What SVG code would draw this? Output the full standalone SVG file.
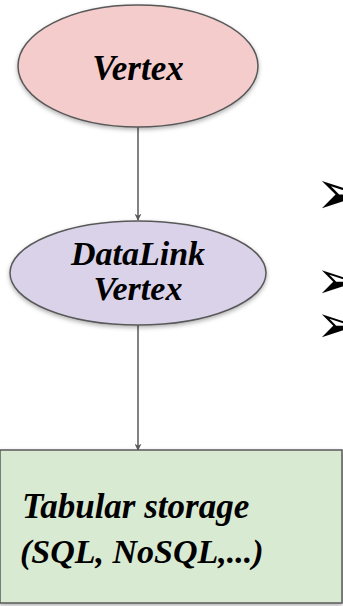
<svg xmlns="http://www.w3.org/2000/svg" width="343" height="606" viewBox="0 0 343 606">
<defs>
<filter id="sh" x="-10%" y="-10%" width="120%" height="130%">
<feDropShadow dx="0" dy="2" stdDeviation="2" flood-color="#000" flood-opacity="0.3"/>
</filter>
<marker id="ah" viewBox="0 0 10 10" refX="9" refY="5" markerWidth="7" markerHeight="7" orient="auto" markerUnits="userSpaceOnUse">
<path d="M0,0 L10,5 L0,10 L3,5 z" fill="#595959"/>
</marker>
<style>
.node{stroke:#595959;stroke-width:1.5;filter:url(#sh)}
.lbl{font-family:"Liberation Serif",serif;font-weight:bold;font-style:italic;fill:#000}
.conn{stroke:#595959;stroke-width:1.5;fill:none;marker-end:url(#ah)}
.bul{font-family:"DejaVu Sans",sans-serif;fill:#000}
</style>
</defs>
<rect width="343" height="606" fill="#fff"/>
<g id="connectors">
<path class="conn" d="M138,127 L138,220"/>
<path class="conn" d="M138,325 L138,450"/>
</g>
<g id="vertex">
<ellipse class="node" cx="138" cy="66" rx="120" ry="61" fill="#f4cccc"/>
<text class="lbl" x="138" y="80" font-size="35" text-anchor="middle">Vertex</text>
</g>
<g id="datalink">
<ellipse class="node" cx="138" cy="273" rx="128" ry="52" fill="#d9d2e9"/>
<text class="lbl" x="138" y="265" font-size="34" text-anchor="middle">DataLink</text>
<text class="lbl" x="138" y="300" font-size="34" text-anchor="middle">Vertex</text>
</g>
<g id="storage">
<rect class="node" x="0" y="450" width="342" height="153" fill="#d9ead3"/>
<text class="lbl" x="22" y="518" font-size="35">Tabular storage</text>
<text class="lbl" x="20" y="563" font-size="34">(SQL, NoSQL,...)</text>
</g>
<g id="bullets">
<text class="bul" x="315" y="214" font-size="62">➢</text>
<text class="bul" x="316" y="298" font-size="52">➢</text>
<text class="bul" x="316" y="342" font-size="52">➢</text>
</g>
</svg>
